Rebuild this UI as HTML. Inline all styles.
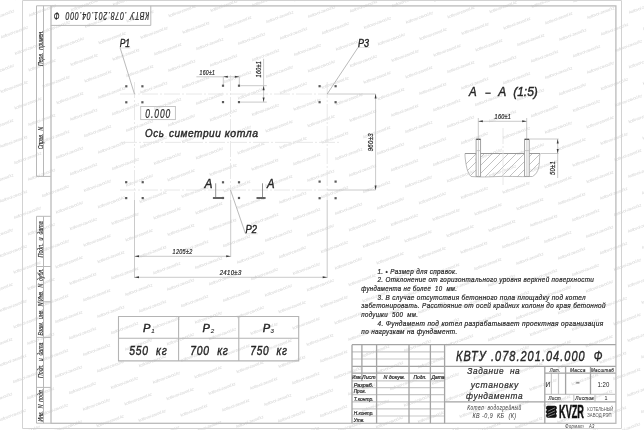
<!DOCTYPE html>
<html><head><meta charset="utf-8">
<style>
html,body{margin:0;padding:0;background:#fff;width:644px;height:430px;overflow:hidden}
svg{display:block;position:absolute;left:0;top:0;will-change:transform;fill:#2a2a2a}
text{font-family:"Liberation Sans",sans-serif;font-style:italic;white-space:pre}
.n text,text.n{font-style:normal}
.bt text,text.bt{stroke:#2a2a2a;stroke-width:0.22}
.bt2 text,text.bt2{stroke:#222;stroke-width:0.4}
.ol{stroke:#d2d2d2;stroke-width:1;fill:none}
.fr{stroke:#bababa;stroke-width:1.3;fill:none}
.ls{stroke:#b8b8b8;stroke-width:1;fill:none}
.tn{stroke:#c8c8c8;stroke-width:1.2;fill:none}
.tk{stroke:#a4a4a4;stroke-width:1.3;fill:none}
.cl{stroke:#e2e2e2;stroke-width:0.8;fill:none;stroke-dasharray:16 2 2 2}
.dim{stroke:#bcbcbc;stroke-width:0.8;fill:none}
.ld{stroke:#a8a8a8;stroke-width:0.8;fill:none}
.dot{fill:#5a5a5a}
.ar{fill:#3a3a3a}
</style></head><body>
<svg width="644" height="430" viewBox="0 0 644 430">
<g id="wm" font-size="4.2" style="font-style:normal;fill:#d4d4d4">
<text x="-28.6" y="443.2" transform="rotate(-20.5 -28.6 443.2)" textLength="29">kotlovoi-zavod.kz</text>
<text x="-28.3" y="388.4" transform="rotate(-20.5 -28.3 388.4)" textLength="29">kotlovoi-zavod.kz</text>
<text x="-14.4" y="404.9" transform="rotate(-20.5 -14.4 404.9)" textLength="29">kotlovoi-zavod.kz</text>
<text x="-0.6" y="421.4" transform="rotate(-20.5 -0.6 421.4)" textLength="29">kotlovoi-zavod.kz</text>
<text x="13.3" y="437.9" transform="rotate(-20.5 13.3 437.9)" textLength="29">kotlovoi-zavod.kz</text>
<text x="-28.0" y="333.7" transform="rotate(-20.5 -28.0 333.7)" textLength="29">kotlovoi-zavod.kz</text>
<text x="-14.2" y="350.2" transform="rotate(-20.5 -14.2 350.2)" textLength="29">kotlovoi-zavod.kz</text>
<text x="-0.3" y="366.7" transform="rotate(-20.5 -0.3 366.7)" textLength="29">kotlovoi-zavod.kz</text>
<text x="13.6" y="383.2" transform="rotate(-20.5 13.6 383.2)" textLength="29">kotlovoi-zavod.kz</text>
<text x="27.5" y="399.6" transform="rotate(-20.5 27.5 399.6)" textLength="29">kotlovoi-zavod.kz</text>
<text x="41.3" y="416.1" transform="rotate(-20.5 41.3 416.1)" textLength="29">kotlovoi-zavod.kz</text>
<text x="55.2" y="432.6" transform="rotate(-20.5 55.2 432.6)" textLength="29">kotlovoi-zavod.kz</text>
<text x="-27.8" y="279.0" transform="rotate(-20.5 -27.8 279.0)" textLength="29">kotlovoi-zavod.kz</text>
<text x="-13.9" y="295.5" transform="rotate(-20.5 -13.9 295.5)" textLength="29">kotlovoi-zavod.kz</text>
<text x="-0.0" y="312.0" transform="rotate(-20.5 -0.0 312.0)" textLength="29">kotlovoi-zavod.kz</text>
<text x="13.9" y="328.4" transform="rotate(-20.5 13.9 328.4)" textLength="29">kotlovoi-zavod.kz</text>
<text x="27.7" y="344.9" transform="rotate(-20.5 27.7 344.9)" textLength="29">kotlovoi-zavod.kz</text>
<text x="41.6" y="361.4" transform="rotate(-20.5 41.6 361.4)" textLength="29">kotlovoi-zavod.kz</text>
<text x="55.5" y="377.9" transform="rotate(-20.5 55.5 377.9)" textLength="29">kotlovoi-zavod.kz</text>
<text x="69.4" y="394.3" transform="rotate(-20.5 69.4 394.3)" textLength="29">kotlovoi-zavod.kz</text>
<text x="83.2" y="410.8" transform="rotate(-20.5 83.2 410.8)" textLength="29">kotlovoi-zavod.kz</text>
<text x="97.1" y="427.3" transform="rotate(-20.5 97.1 427.3)" textLength="29">kotlovoi-zavod.kz</text>
<text x="111.0" y="443.8" transform="rotate(-20.5 111.0 443.8)" textLength="29">kotlovoi-zavod.kz</text>
<text x="-27.5" y="224.3" transform="rotate(-20.5 -27.5 224.3)" textLength="29">kotlovoi-zavod.kz</text>
<text x="-13.6" y="240.8" transform="rotate(-20.5 -13.6 240.8)" textLength="29">kotlovoi-zavod.kz</text>
<text x="0.3" y="257.3" transform="rotate(-20.5 0.3 257.3)" textLength="29">kotlovoi-zavod.kz</text>
<text x="14.1" y="273.7" transform="rotate(-20.5 14.1 273.7)" textLength="29">kotlovoi-zavod.kz</text>
<text x="28.0" y="290.2" transform="rotate(-20.5 28.0 290.2)" textLength="29">kotlovoi-zavod.kz</text>
<text x="41.9" y="306.7" transform="rotate(-20.5 41.9 306.7)" textLength="29">kotlovoi-zavod.kz</text>
<text x="55.8" y="323.2" transform="rotate(-20.5 55.8 323.2)" textLength="29">kotlovoi-zavod.kz</text>
<text x="69.6" y="339.6" transform="rotate(-20.5 69.6 339.6)" textLength="29">kotlovoi-zavod.kz</text>
<text x="83.5" y="356.1" transform="rotate(-20.5 83.5 356.1)" textLength="29">kotlovoi-zavod.kz</text>
<text x="97.4" y="372.6" transform="rotate(-20.5 97.4 372.6)" textLength="29">kotlovoi-zavod.kz</text>
<text x="111.3" y="389.1" transform="rotate(-20.5 111.3 389.1)" textLength="29">kotlovoi-zavod.kz</text>
<text x="125.1" y="405.5" transform="rotate(-20.5 125.1 405.5)" textLength="29">kotlovoi-zavod.kz</text>
<text x="139.0" y="422.0" transform="rotate(-20.5 139.0 422.0)" textLength="29">kotlovoi-zavod.kz</text>
<text x="152.9" y="438.5" transform="rotate(-20.5 152.9 438.5)" textLength="29">kotlovoi-zavod.kz</text>
<text x="-27.2" y="169.6" transform="rotate(-20.5 -27.2 169.6)" textLength="29">kotlovoi-zavod.kz</text>
<text x="-13.3" y="186.1" transform="rotate(-20.5 -13.3 186.1)" textLength="29">kotlovoi-zavod.kz</text>
<text x="0.5" y="202.6" transform="rotate(-20.5 0.5 202.6)" textLength="29">kotlovoi-zavod.kz</text>
<text x="14.4" y="219.0" transform="rotate(-20.5 14.4 219.0)" textLength="29">kotlovoi-zavod.kz</text>
<text x="28.3" y="235.5" transform="rotate(-20.5 28.3 235.5)" textLength="29">kotlovoi-zavod.kz</text>
<text x="42.2" y="252.0" transform="rotate(-20.5 42.2 252.0)" textLength="29">kotlovoi-zavod.kz</text>
<text x="56.0" y="268.5" transform="rotate(-20.5 56.0 268.5)" textLength="29">kotlovoi-zavod.kz</text>
<text x="69.9" y="284.9" transform="rotate(-20.5 69.9 284.9)" textLength="29">kotlovoi-zavod.kz</text>
<text x="83.8" y="301.4" transform="rotate(-20.5 83.8 301.4)" textLength="29">kotlovoi-zavod.kz</text>
<text x="97.7" y="317.9" transform="rotate(-20.5 97.7 317.9)" textLength="29">kotlovoi-zavod.kz</text>
<text x="111.5" y="334.3" transform="rotate(-20.5 111.5 334.3)" textLength="29">kotlovoi-zavod.kz</text>
<text x="125.4" y="350.8" transform="rotate(-20.5 125.4 350.8)" textLength="29">kotlovoi-zavod.kz</text>
<text x="139.3" y="367.3" transform="rotate(-20.5 139.3 367.3)" textLength="29">kotlovoi-zavod.kz</text>
<text x="153.2" y="383.8" transform="rotate(-20.5 153.2 383.8)" textLength="29">kotlovoi-zavod.kz</text>
<text x="167.0" y="400.2" transform="rotate(-20.5 167.0 400.2)" textLength="29">kotlovoi-zavod.kz</text>
<text x="180.9" y="416.7" transform="rotate(-20.5 180.9 416.7)" textLength="29">kotlovoi-zavod.kz</text>
<text x="194.8" y="433.2" transform="rotate(-20.5 194.8 433.2)" textLength="29">kotlovoi-zavod.kz</text>
<text x="-26.9" y="114.9" transform="rotate(-20.5 -26.9 114.9)" textLength="29">kotlovoi-zavod.kz</text>
<text x="-13.1" y="131.4" transform="rotate(-20.5 -13.1 131.4)" textLength="29">kotlovoi-zavod.kz</text>
<text x="0.8" y="147.8" transform="rotate(-20.5 0.8 147.8)" textLength="29">kotlovoi-zavod.kz</text>
<text x="14.7" y="164.3" transform="rotate(-20.5 14.7 164.3)" textLength="29">kotlovoi-zavod.kz</text>
<text x="28.6" y="180.8" transform="rotate(-20.5 28.6 180.8)" textLength="29">kotlovoi-zavod.kz</text>
<text x="42.4" y="197.3" transform="rotate(-20.5 42.4 197.3)" textLength="29">kotlovoi-zavod.kz</text>
<text x="56.3" y="213.7" transform="rotate(-20.5 56.3 213.7)" textLength="29">kotlovoi-zavod.kz</text>
<text x="70.2" y="230.2" transform="rotate(-20.5 70.2 230.2)" textLength="29">kotlovoi-zavod.kz</text>
<text x="84.1" y="246.7" transform="rotate(-20.5 84.1 246.7)" textLength="29">kotlovoi-zavod.kz</text>
<text x="97.9" y="263.2" transform="rotate(-20.5 97.9 263.2)" textLength="29">kotlovoi-zavod.kz</text>
<text x="111.8" y="279.6" transform="rotate(-20.5 111.8 279.6)" textLength="29">kotlovoi-zavod.kz</text>
<text x="125.7" y="296.1" transform="rotate(-20.5 125.7 296.1)" textLength="29">kotlovoi-zavod.kz</text>
<text x="139.6" y="312.6" transform="rotate(-20.5 139.6 312.6)" textLength="29">kotlovoi-zavod.kz</text>
<text x="153.4" y="329.1" transform="rotate(-20.5 153.4 329.1)" textLength="29">kotlovoi-zavod.kz</text>
<text x="167.3" y="345.5" transform="rotate(-20.5 167.3 345.5)" textLength="29">kotlovoi-zavod.kz</text>
<text x="181.2" y="362.0" transform="rotate(-20.5 181.2 362.0)" textLength="29">kotlovoi-zavod.kz</text>
<text x="195.1" y="378.5" transform="rotate(-20.5 195.1 378.5)" textLength="29">kotlovoi-zavod.kz</text>
<text x="208.9" y="395.0" transform="rotate(-20.5 208.9 395.0)" textLength="29">kotlovoi-zavod.kz</text>
<text x="222.8" y="411.4" transform="rotate(-20.5 222.8 411.4)" textLength="29">kotlovoi-zavod.kz</text>
<text x="236.7" y="427.9" transform="rotate(-20.5 236.7 427.9)" textLength="29">kotlovoi-zavod.kz</text>
<text x="250.6" y="444.4" transform="rotate(-20.5 250.6 444.4)" textLength="29">kotlovoi-zavod.kz</text>
<text x="-26.6" y="60.2" transform="rotate(-20.5 -26.6 60.2)" textLength="29">kotlovoi-zavod.kz</text>
<text x="-12.8" y="76.7" transform="rotate(-20.5 -12.8 76.7)" textLength="29">kotlovoi-zavod.kz</text>
<text x="1.1" y="93.1" transform="rotate(-20.5 1.1 93.1)" textLength="29">kotlovoi-zavod.kz</text>
<text x="15.0" y="109.6" transform="rotate(-20.5 15.0 109.6)" textLength="29">kotlovoi-zavod.kz</text>
<text x="28.8" y="126.1" transform="rotate(-20.5 28.8 126.1)" textLength="29">kotlovoi-zavod.kz</text>
<text x="42.7" y="142.6" transform="rotate(-20.5 42.7 142.6)" textLength="29">kotlovoi-zavod.kz</text>
<text x="56.6" y="159.0" transform="rotate(-20.5 56.6 159.0)" textLength="29">kotlovoi-zavod.kz</text>
<text x="70.5" y="175.5" transform="rotate(-20.5 70.5 175.5)" textLength="29">kotlovoi-zavod.kz</text>
<text x="84.3" y="192.0" transform="rotate(-20.5 84.3 192.0)" textLength="29">kotlovoi-zavod.kz</text>
<text x="98.2" y="208.5" transform="rotate(-20.5 98.2 208.5)" textLength="29">kotlovoi-zavod.kz</text>
<text x="112.1" y="224.9" transform="rotate(-20.5 112.1 224.9)" textLength="29">kotlovoi-zavod.kz</text>
<text x="126.0" y="241.4" transform="rotate(-20.5 126.0 241.4)" textLength="29">kotlovoi-zavod.kz</text>
<text x="139.8" y="257.9" transform="rotate(-20.5 139.8 257.9)" textLength="29">kotlovoi-zavod.kz</text>
<text x="153.7" y="274.4" transform="rotate(-20.5 153.7 274.4)" textLength="29">kotlovoi-zavod.kz</text>
<text x="167.6" y="290.8" transform="rotate(-20.5 167.6 290.8)" textLength="29">kotlovoi-zavod.kz</text>
<text x="181.5" y="307.3" transform="rotate(-20.5 181.5 307.3)" textLength="29">kotlovoi-zavod.kz</text>
<text x="195.3" y="323.8" transform="rotate(-20.5 195.3 323.8)" textLength="29">kotlovoi-zavod.kz</text>
<text x="209.2" y="340.2" transform="rotate(-20.5 209.2 340.2)" textLength="29">kotlovoi-zavod.kz</text>
<text x="223.1" y="356.7" transform="rotate(-20.5 223.1 356.7)" textLength="29">kotlovoi-zavod.kz</text>
<text x="237.0" y="373.2" transform="rotate(-20.5 237.0 373.2)" textLength="29">kotlovoi-zavod.kz</text>
<text x="250.8" y="389.7" transform="rotate(-20.5 250.8 389.7)" textLength="29">kotlovoi-zavod.kz</text>
<text x="264.7" y="406.1" transform="rotate(-20.5 264.7 406.1)" textLength="29">kotlovoi-zavod.kz</text>
<text x="278.6" y="422.6" transform="rotate(-20.5 278.6 422.6)" textLength="29">kotlovoi-zavod.kz</text>
<text x="292.5" y="439.1" transform="rotate(-20.5 292.5 439.1)" textLength="29">kotlovoi-zavod.kz</text>
<text x="-26.4" y="5.5" transform="rotate(-20.5 -26.4 5.5)" textLength="29">kotlovoi-zavod.kz</text>
<text x="-12.5" y="22.0" transform="rotate(-20.5 -12.5 22.0)" textLength="29">kotlovoi-zavod.kz</text>
<text x="1.4" y="38.4" transform="rotate(-20.5 1.4 38.4)" textLength="29">kotlovoi-zavod.kz</text>
<text x="15.3" y="54.9" transform="rotate(-20.5 15.3 54.9)" textLength="29">kotlovoi-zavod.kz</text>
<text x="29.1" y="71.4" transform="rotate(-20.5 29.1 71.4)" textLength="29">kotlovoi-zavod.kz</text>
<text x="43.0" y="87.9" transform="rotate(-20.5 43.0 87.9)" textLength="29">kotlovoi-zavod.kz</text>
<text x="56.9" y="104.3" transform="rotate(-20.5 56.9 104.3)" textLength="29">kotlovoi-zavod.kz</text>
<text x="70.7" y="120.8" transform="rotate(-20.5 70.7 120.8)" textLength="29">kotlovoi-zavod.kz</text>
<text x="84.6" y="137.3" transform="rotate(-20.5 84.6 137.3)" textLength="29">kotlovoi-zavod.kz</text>
<text x="98.5" y="153.7" transform="rotate(-20.5 98.5 153.7)" textLength="29">kotlovoi-zavod.kz</text>
<text x="112.4" y="170.2" transform="rotate(-20.5 112.4 170.2)" textLength="29">kotlovoi-zavod.kz</text>
<text x="126.2" y="186.7" transform="rotate(-20.5 126.2 186.7)" textLength="29">kotlovoi-zavod.kz</text>
<text x="140.1" y="203.2" transform="rotate(-20.5 140.1 203.2)" textLength="29">kotlovoi-zavod.kz</text>
<text x="154.0" y="219.6" transform="rotate(-20.5 154.0 219.6)" textLength="29">kotlovoi-zavod.kz</text>
<text x="167.9" y="236.1" transform="rotate(-20.5 167.9 236.1)" textLength="29">kotlovoi-zavod.kz</text>
<text x="181.7" y="252.6" transform="rotate(-20.5 181.7 252.6)" textLength="29">kotlovoi-zavod.kz</text>
<text x="195.6" y="269.1" transform="rotate(-20.5 195.6 269.1)" textLength="29">kotlovoi-zavod.kz</text>
<text x="209.5" y="285.5" transform="rotate(-20.5 209.5 285.5)" textLength="29">kotlovoi-zavod.kz</text>
<text x="223.4" y="302.0" transform="rotate(-20.5 223.4 302.0)" textLength="29">kotlovoi-zavod.kz</text>
<text x="237.2" y="318.5" transform="rotate(-20.5 237.2 318.5)" textLength="29">kotlovoi-zavod.kz</text>
<text x="251.1" y="335.0" transform="rotate(-20.5 251.1 335.0)" textLength="29">kotlovoi-zavod.kz</text>
<text x="265.0" y="351.4" transform="rotate(-20.5 265.0 351.4)" textLength="29">kotlovoi-zavod.kz</text>
<text x="278.9" y="367.9" transform="rotate(-20.5 278.9 367.9)" textLength="29">kotlovoi-zavod.kz</text>
<text x="292.7" y="384.4" transform="rotate(-20.5 292.7 384.4)" textLength="29">kotlovoi-zavod.kz</text>
<text x="306.6" y="400.9" transform="rotate(-20.5 306.6 400.9)" textLength="29">kotlovoi-zavod.kz</text>
<text x="320.5" y="417.3" transform="rotate(-20.5 320.5 417.3)" textLength="29">kotlovoi-zavod.kz</text>
<text x="334.4" y="433.8" transform="rotate(-20.5 334.4 433.8)" textLength="29">kotlovoi-zavod.kz</text>
<text x="15.5" y="0.2" transform="rotate(-20.5 15.5 0.2)" textLength="29">kotlovoi-zavod.kz</text>
<text x="29.4" y="16.7" transform="rotate(-20.5 29.4 16.7)" textLength="29">kotlovoi-zavod.kz</text>
<text x="43.3" y="33.1" transform="rotate(-20.5 43.3 33.1)" textLength="29">kotlovoi-zavod.kz</text>
<text x="57.2" y="49.6" transform="rotate(-20.5 57.2 49.6)" textLength="29">kotlovoi-zavod.kz</text>
<text x="71.0" y="66.1" transform="rotate(-20.5 71.0 66.1)" textLength="29">kotlovoi-zavod.kz</text>
<text x="84.9" y="82.6" transform="rotate(-20.5 84.9 82.6)" textLength="29">kotlovoi-zavod.kz</text>
<text x="98.8" y="99.0" transform="rotate(-20.5 98.8 99.0)" textLength="29">kotlovoi-zavod.kz</text>
<text x="112.6" y="115.5" transform="rotate(-20.5 112.6 115.5)" textLength="29">kotlovoi-zavod.kz</text>
<text x="126.5" y="132.0" transform="rotate(-20.5 126.5 132.0)" textLength="29">kotlovoi-zavod.kz</text>
<text x="140.4" y="148.5" transform="rotate(-20.5 140.4 148.5)" textLength="29">kotlovoi-zavod.kz</text>
<text x="154.3" y="164.9" transform="rotate(-20.5 154.3 164.9)" textLength="29">kotlovoi-zavod.kz</text>
<text x="168.1" y="181.4" transform="rotate(-20.5 168.1 181.4)" textLength="29">kotlovoi-zavod.kz</text>
<text x="182.0" y="197.9" transform="rotate(-20.5 182.0 197.9)" textLength="29">kotlovoi-zavod.kz</text>
<text x="195.9" y="214.4" transform="rotate(-20.5 195.9 214.4)" textLength="29">kotlovoi-zavod.kz</text>
<text x="209.8" y="230.8" transform="rotate(-20.5 209.8 230.8)" textLength="29">kotlovoi-zavod.kz</text>
<text x="223.6" y="247.3" transform="rotate(-20.5 223.6 247.3)" textLength="29">kotlovoi-zavod.kz</text>
<text x="237.5" y="263.8" transform="rotate(-20.5 237.5 263.8)" textLength="29">kotlovoi-zavod.kz</text>
<text x="251.4" y="280.3" transform="rotate(-20.5 251.4 280.3)" textLength="29">kotlovoi-zavod.kz</text>
<text x="265.3" y="296.7" transform="rotate(-20.5 265.3 296.7)" textLength="29">kotlovoi-zavod.kz</text>
<text x="279.1" y="313.2" transform="rotate(-20.5 279.1 313.2)" textLength="29">kotlovoi-zavod.kz</text>
<text x="293.0" y="329.7" transform="rotate(-20.5 293.0 329.7)" textLength="29">kotlovoi-zavod.kz</text>
<text x="306.9" y="346.1" transform="rotate(-20.5 306.9 346.1)" textLength="29">kotlovoi-zavod.kz</text>
<text x="320.8" y="362.6" transform="rotate(-20.5 320.8 362.6)" textLength="29">kotlovoi-zavod.kz</text>
<text x="334.6" y="379.1" transform="rotate(-20.5 334.6 379.1)" textLength="29">kotlovoi-zavod.kz</text>
<text x="348.5" y="395.6" transform="rotate(-20.5 348.5 395.6)" textLength="29">kotlovoi-zavod.kz</text>
<text x="362.4" y="412.0" transform="rotate(-20.5 362.4 412.0)" textLength="29">kotlovoi-zavod.kz</text>
<text x="376.3" y="428.5" transform="rotate(-20.5 376.3 428.5)" textLength="29">kotlovoi-zavod.kz</text>
<text x="390.1" y="445.0" transform="rotate(-20.5 390.1 445.0)" textLength="29">kotlovoi-zavod.kz</text>
<text x="71.3" y="11.4" transform="rotate(-20.5 71.3 11.4)" textLength="29">kotlovoi-zavod.kz</text>
<text x="85.2" y="27.9" transform="rotate(-20.5 85.2 27.9)" textLength="29">kotlovoi-zavod.kz</text>
<text x="99.1" y="44.3" transform="rotate(-20.5 99.1 44.3)" textLength="29">kotlovoi-zavod.kz</text>
<text x="112.9" y="60.8" transform="rotate(-20.5 112.9 60.8)" textLength="29">kotlovoi-zavod.kz</text>
<text x="126.8" y="77.3" transform="rotate(-20.5 126.8 77.3)" textLength="29">kotlovoi-zavod.kz</text>
<text x="140.7" y="93.8" transform="rotate(-20.5 140.7 93.8)" textLength="29">kotlovoi-zavod.kz</text>
<text x="154.5" y="110.2" transform="rotate(-20.5 154.5 110.2)" textLength="29">kotlovoi-zavod.kz</text>
<text x="168.4" y="126.7" transform="rotate(-20.5 168.4 126.7)" textLength="29">kotlovoi-zavod.kz</text>
<text x="182.3" y="143.2" transform="rotate(-20.5 182.3 143.2)" textLength="29">kotlovoi-zavod.kz</text>
<text x="196.2" y="159.6" transform="rotate(-20.5 196.2 159.6)" textLength="29">kotlovoi-zavod.kz</text>
<text x="210.0" y="176.1" transform="rotate(-20.5 210.0 176.1)" textLength="29">kotlovoi-zavod.kz</text>
<text x="223.9" y="192.6" transform="rotate(-20.5 223.9 192.6)" textLength="29">kotlovoi-zavod.kz</text>
<text x="237.8" y="209.1" transform="rotate(-20.5 237.8 209.1)" textLength="29">kotlovoi-zavod.kz</text>
<text x="251.7" y="225.5" transform="rotate(-20.5 251.7 225.5)" textLength="29">kotlovoi-zavod.kz</text>
<text x="265.5" y="242.0" transform="rotate(-20.5 265.5 242.0)" textLength="29">kotlovoi-zavod.kz</text>
<text x="279.4" y="258.5" transform="rotate(-20.5 279.4 258.5)" textLength="29">kotlovoi-zavod.kz</text>
<text x="293.3" y="275.0" transform="rotate(-20.5 293.3 275.0)" textLength="29">kotlovoi-zavod.kz</text>
<text x="307.2" y="291.4" transform="rotate(-20.5 307.2 291.4)" textLength="29">kotlovoi-zavod.kz</text>
<text x="321.0" y="307.9" transform="rotate(-20.5 321.0 307.9)" textLength="29">kotlovoi-zavod.kz</text>
<text x="334.9" y="324.4" transform="rotate(-20.5 334.9 324.4)" textLength="29">kotlovoi-zavod.kz</text>
<text x="348.8" y="340.9" transform="rotate(-20.5 348.8 340.9)" textLength="29">kotlovoi-zavod.kz</text>
<text x="362.7" y="357.3" transform="rotate(-20.5 362.7 357.3)" textLength="29">kotlovoi-zavod.kz</text>
<text x="376.5" y="373.8" transform="rotate(-20.5 376.5 373.8)" textLength="29">kotlovoi-zavod.kz</text>
<text x="390.4" y="390.3" transform="rotate(-20.5 390.4 390.3)" textLength="29">kotlovoi-zavod.kz</text>
<text x="404.3" y="406.8" transform="rotate(-20.5 404.3 406.8)" textLength="29">kotlovoi-zavod.kz</text>
<text x="418.2" y="423.2" transform="rotate(-20.5 418.2 423.2)" textLength="29">kotlovoi-zavod.kz</text>
<text x="432.0" y="439.7" transform="rotate(-20.5 432.0 439.7)" textLength="29">kotlovoi-zavod.kz</text>
<text x="113.2" y="6.1" transform="rotate(-20.5 113.2 6.1)" textLength="29">kotlovoi-zavod.kz</text>
<text x="127.1" y="22.6" transform="rotate(-20.5 127.1 22.6)" textLength="29">kotlovoi-zavod.kz</text>
<text x="141.0" y="39.0" transform="rotate(-20.5 141.0 39.0)" textLength="29">kotlovoi-zavod.kz</text>
<text x="154.8" y="55.5" transform="rotate(-20.5 154.8 55.5)" textLength="29">kotlovoi-zavod.kz</text>
<text x="168.7" y="72.0" transform="rotate(-20.5 168.7 72.0)" textLength="29">kotlovoi-zavod.kz</text>
<text x="182.6" y="88.5" transform="rotate(-20.5 182.6 88.5)" textLength="29">kotlovoi-zavod.kz</text>
<text x="196.4" y="104.9" transform="rotate(-20.5 196.4 104.9)" textLength="29">kotlovoi-zavod.kz</text>
<text x="210.3" y="121.4" transform="rotate(-20.5 210.3 121.4)" textLength="29">kotlovoi-zavod.kz</text>
<text x="224.2" y="137.9" transform="rotate(-20.5 224.2 137.9)" textLength="29">kotlovoi-zavod.kz</text>
<text x="238.1" y="154.4" transform="rotate(-20.5 238.1 154.4)" textLength="29">kotlovoi-zavod.kz</text>
<text x="251.9" y="170.8" transform="rotate(-20.5 251.9 170.8)" textLength="29">kotlovoi-zavod.kz</text>
<text x="265.8" y="187.3" transform="rotate(-20.5 265.8 187.3)" textLength="29">kotlovoi-zavod.kz</text>
<text x="279.7" y="203.8" transform="rotate(-20.5 279.7 203.8)" textLength="29">kotlovoi-zavod.kz</text>
<text x="293.6" y="220.3" transform="rotate(-20.5 293.6 220.3)" textLength="29">kotlovoi-zavod.kz</text>
<text x="307.4" y="236.7" transform="rotate(-20.5 307.4 236.7)" textLength="29">kotlovoi-zavod.kz</text>
<text x="321.3" y="253.2" transform="rotate(-20.5 321.3 253.2)" textLength="29">kotlovoi-zavod.kz</text>
<text x="335.2" y="269.7" transform="rotate(-20.5 335.2 269.7)" textLength="29">kotlovoi-zavod.kz</text>
<text x="349.1" y="286.2" transform="rotate(-20.5 349.1 286.2)" textLength="29">kotlovoi-zavod.kz</text>
<text x="362.9" y="302.6" transform="rotate(-20.5 362.9 302.6)" textLength="29">kotlovoi-zavod.kz</text>
<text x="376.8" y="319.1" transform="rotate(-20.5 376.8 319.1)" textLength="29">kotlovoi-zavod.kz</text>
<text x="390.7" y="335.6" transform="rotate(-20.5 390.7 335.6)" textLength="29">kotlovoi-zavod.kz</text>
<text x="404.6" y="352.0" transform="rotate(-20.5 404.6 352.0)" textLength="29">kotlovoi-zavod.kz</text>
<text x="418.4" y="368.5" transform="rotate(-20.5 418.4 368.5)" textLength="29">kotlovoi-zavod.kz</text>
<text x="432.3" y="385.0" transform="rotate(-20.5 432.3 385.0)" textLength="29">kotlovoi-zavod.kz</text>
<text x="446.2" y="401.5" transform="rotate(-20.5 446.2 401.5)" textLength="29">kotlovoi-zavod.kz</text>
<text x="460.1" y="417.9" transform="rotate(-20.5 460.1 417.9)" textLength="29">kotlovoi-zavod.kz</text>
<text x="473.9" y="434.4" transform="rotate(-20.5 473.9 434.4)" textLength="29">kotlovoi-zavod.kz</text>
<text x="155.1" y="0.8" transform="rotate(-20.5 155.1 0.8)" textLength="29">kotlovoi-zavod.kz</text>
<text x="169.0" y="17.3" transform="rotate(-20.5 169.0 17.3)" textLength="29">kotlovoi-zavod.kz</text>
<text x="182.9" y="33.8" transform="rotate(-20.5 182.9 33.8)" textLength="29">kotlovoi-zavod.kz</text>
<text x="196.7" y="50.2" transform="rotate(-20.5 196.7 50.2)" textLength="29">kotlovoi-zavod.kz</text>
<text x="210.6" y="66.7" transform="rotate(-20.5 210.6 66.7)" textLength="29">kotlovoi-zavod.kz</text>
<text x="224.5" y="83.2" transform="rotate(-20.5 224.5 83.2)" textLength="29">kotlovoi-zavod.kz</text>
<text x="238.3" y="99.7" transform="rotate(-20.5 238.3 99.7)" textLength="29">kotlovoi-zavod.kz</text>
<text x="252.2" y="116.1" transform="rotate(-20.5 252.2 116.1)" textLength="29">kotlovoi-zavod.kz</text>
<text x="266.1" y="132.6" transform="rotate(-20.5 266.1 132.6)" textLength="29">kotlovoi-zavod.kz</text>
<text x="280.0" y="149.1" transform="rotate(-20.5 280.0 149.1)" textLength="29">kotlovoi-zavod.kz</text>
<text x="293.8" y="165.5" transform="rotate(-20.5 293.8 165.5)" textLength="29">kotlovoi-zavod.kz</text>
<text x="307.7" y="182.0" transform="rotate(-20.5 307.7 182.0)" textLength="29">kotlovoi-zavod.kz</text>
<text x="321.6" y="198.5" transform="rotate(-20.5 321.6 198.5)" textLength="29">kotlovoi-zavod.kz</text>
<text x="335.5" y="215.0" transform="rotate(-20.5 335.5 215.0)" textLength="29">kotlovoi-zavod.kz</text>
<text x="349.3" y="231.4" transform="rotate(-20.5 349.3 231.4)" textLength="29">kotlovoi-zavod.kz</text>
<text x="363.2" y="247.9" transform="rotate(-20.5 363.2 247.9)" textLength="29">kotlovoi-zavod.kz</text>
<text x="377.1" y="264.4" transform="rotate(-20.5 377.1 264.4)" textLength="29">kotlovoi-zavod.kz</text>
<text x="391.0" y="280.9" transform="rotate(-20.5 391.0 280.9)" textLength="29">kotlovoi-zavod.kz</text>
<text x="404.8" y="297.3" transform="rotate(-20.5 404.8 297.3)" textLength="29">kotlovoi-zavod.kz</text>
<text x="418.7" y="313.8" transform="rotate(-20.5 418.7 313.8)" textLength="29">kotlovoi-zavod.kz</text>
<text x="432.6" y="330.3" transform="rotate(-20.5 432.6 330.3)" textLength="29">kotlovoi-zavod.kz</text>
<text x="446.5" y="346.8" transform="rotate(-20.5 446.5 346.8)" textLength="29">kotlovoi-zavod.kz</text>
<text x="460.3" y="363.2" transform="rotate(-20.5 460.3 363.2)" textLength="29">kotlovoi-zavod.kz</text>
<text x="474.2" y="379.7" transform="rotate(-20.5 474.2 379.7)" textLength="29">kotlovoi-zavod.kz</text>
<text x="488.1" y="396.2" transform="rotate(-20.5 488.1 396.2)" textLength="29">kotlovoi-zavod.kz</text>
<text x="502.0" y="412.7" transform="rotate(-20.5 502.0 412.7)" textLength="29">kotlovoi-zavod.kz</text>
<text x="515.8" y="429.1" transform="rotate(-20.5 515.8 429.1)" textLength="29">kotlovoi-zavod.kz</text>
<text x="197.0" y="-4.5" transform="rotate(-20.5 197.0 -4.5)" textLength="29">kotlovoi-zavod.kz</text>
<text x="210.9" y="12.0" transform="rotate(-20.5 210.9 12.0)" textLength="29">kotlovoi-zavod.kz</text>
<text x="224.8" y="28.5" transform="rotate(-20.5 224.8 28.5)" textLength="29">kotlovoi-zavod.kz</text>
<text x="238.6" y="44.9" transform="rotate(-20.5 238.6 44.9)" textLength="29">kotlovoi-zavod.kz</text>
<text x="252.5" y="61.4" transform="rotate(-20.5 252.5 61.4)" textLength="29">kotlovoi-zavod.kz</text>
<text x="266.4" y="77.9" transform="rotate(-20.5 266.4 77.9)" textLength="29">kotlovoi-zavod.kz</text>
<text x="280.2" y="94.4" transform="rotate(-20.5 280.2 94.4)" textLength="29">kotlovoi-zavod.kz</text>
<text x="294.1" y="110.8" transform="rotate(-20.5 294.1 110.8)" textLength="29">kotlovoi-zavod.kz</text>
<text x="308.0" y="127.3" transform="rotate(-20.5 308.0 127.3)" textLength="29">kotlovoi-zavod.kz</text>
<text x="321.9" y="143.8" transform="rotate(-20.5 321.9 143.8)" textLength="29">kotlovoi-zavod.kz</text>
<text x="335.7" y="160.3" transform="rotate(-20.5 335.7 160.3)" textLength="29">kotlovoi-zavod.kz</text>
<text x="349.6" y="176.7" transform="rotate(-20.5 349.6 176.7)" textLength="29">kotlovoi-zavod.kz</text>
<text x="363.5" y="193.2" transform="rotate(-20.5 363.5 193.2)" textLength="29">kotlovoi-zavod.kz</text>
<text x="377.4" y="209.7" transform="rotate(-20.5 377.4 209.7)" textLength="29">kotlovoi-zavod.kz</text>
<text x="391.2" y="226.2" transform="rotate(-20.5 391.2 226.2)" textLength="29">kotlovoi-zavod.kz</text>
<text x="405.1" y="242.6" transform="rotate(-20.5 405.1 242.6)" textLength="29">kotlovoi-zavod.kz</text>
<text x="419.0" y="259.1" transform="rotate(-20.5 419.0 259.1)" textLength="29">kotlovoi-zavod.kz</text>
<text x="432.9" y="275.6" transform="rotate(-20.5 432.9 275.6)" textLength="29">kotlovoi-zavod.kz</text>
<text x="446.7" y="292.1" transform="rotate(-20.5 446.7 292.1)" textLength="29">kotlovoi-zavod.kz</text>
<text x="460.6" y="308.5" transform="rotate(-20.5 460.6 308.5)" textLength="29">kotlovoi-zavod.kz</text>
<text x="474.5" y="325.0" transform="rotate(-20.5 474.5 325.0)" textLength="29">kotlovoi-zavod.kz</text>
<text x="488.4" y="341.5" transform="rotate(-20.5 488.4 341.5)" textLength="29">kotlovoi-zavod.kz</text>
<text x="502.2" y="357.9" transform="rotate(-20.5 502.2 357.9)" textLength="29">kotlovoi-zavod.kz</text>
<text x="516.1" y="374.4" transform="rotate(-20.5 516.1 374.4)" textLength="29">kotlovoi-zavod.kz</text>
<text x="530.0" y="390.9" transform="rotate(-20.5 530.0 390.9)" textLength="29">kotlovoi-zavod.kz</text>
<text x="543.9" y="407.4" transform="rotate(-20.5 543.9 407.4)" textLength="29">kotlovoi-zavod.kz</text>
<text x="557.7" y="423.8" transform="rotate(-20.5 557.7 423.8)" textLength="29">kotlovoi-zavod.kz</text>
<text x="571.6" y="440.3" transform="rotate(-20.5 571.6 440.3)" textLength="29">kotlovoi-zavod.kz</text>
<text x="252.8" y="6.7" transform="rotate(-20.5 252.8 6.7)" textLength="29">kotlovoi-zavod.kz</text>
<text x="266.7" y="23.2" transform="rotate(-20.5 266.7 23.2)" textLength="29">kotlovoi-zavod.kz</text>
<text x="280.5" y="39.7" transform="rotate(-20.5 280.5 39.7)" textLength="29">kotlovoi-zavod.kz</text>
<text x="294.4" y="56.1" transform="rotate(-20.5 294.4 56.1)" textLength="29">kotlovoi-zavod.kz</text>
<text x="308.3" y="72.6" transform="rotate(-20.5 308.3 72.6)" textLength="29">kotlovoi-zavod.kz</text>
<text x="322.1" y="89.1" transform="rotate(-20.5 322.1 89.1)" textLength="29">kotlovoi-zavod.kz</text>
<text x="336.0" y="105.6" transform="rotate(-20.5 336.0 105.6)" textLength="29">kotlovoi-zavod.kz</text>
<text x="349.9" y="122.0" transform="rotate(-20.5 349.9 122.0)" textLength="29">kotlovoi-zavod.kz</text>
<text x="363.8" y="138.5" transform="rotate(-20.5 363.8 138.5)" textLength="29">kotlovoi-zavod.kz</text>
<text x="377.6" y="155.0" transform="rotate(-20.5 377.6 155.0)" textLength="29">kotlovoi-zavod.kz</text>
<text x="391.5" y="171.4" transform="rotate(-20.5 391.5 171.4)" textLength="29">kotlovoi-zavod.kz</text>
<text x="405.4" y="187.9" transform="rotate(-20.5 405.4 187.9)" textLength="29">kotlovoi-zavod.kz</text>
<text x="419.3" y="204.4" transform="rotate(-20.5 419.3 204.4)" textLength="29">kotlovoi-zavod.kz</text>
<text x="433.1" y="220.9" transform="rotate(-20.5 433.1 220.9)" textLength="29">kotlovoi-zavod.kz</text>
<text x="447.0" y="237.3" transform="rotate(-20.5 447.0 237.3)" textLength="29">kotlovoi-zavod.kz</text>
<text x="460.9" y="253.8" transform="rotate(-20.5 460.9 253.8)" textLength="29">kotlovoi-zavod.kz</text>
<text x="474.8" y="270.3" transform="rotate(-20.5 474.8 270.3)" textLength="29">kotlovoi-zavod.kz</text>
<text x="488.6" y="286.8" transform="rotate(-20.5 488.6 286.8)" textLength="29">kotlovoi-zavod.kz</text>
<text x="502.5" y="303.2" transform="rotate(-20.5 502.5 303.2)" textLength="29">kotlovoi-zavod.kz</text>
<text x="516.4" y="319.7" transform="rotate(-20.5 516.4 319.7)" textLength="29">kotlovoi-zavod.kz</text>
<text x="530.3" y="336.2" transform="rotate(-20.5 530.3 336.2)" textLength="29">kotlovoi-zavod.kz</text>
<text x="544.1" y="352.7" transform="rotate(-20.5 544.1 352.7)" textLength="29">kotlovoi-zavod.kz</text>
<text x="558.0" y="369.1" transform="rotate(-20.5 558.0 369.1)" textLength="29">kotlovoi-zavod.kz</text>
<text x="571.9" y="385.6" transform="rotate(-20.5 571.9 385.6)" textLength="29">kotlovoi-zavod.kz</text>
<text x="585.8" y="402.1" transform="rotate(-20.5 585.8 402.1)" textLength="29">kotlovoi-zavod.kz</text>
<text x="599.6" y="418.6" transform="rotate(-20.5 599.6 418.6)" textLength="29">kotlovoi-zavod.kz</text>
<text x="613.5" y="435.0" transform="rotate(-20.5 613.5 435.0)" textLength="29">kotlovoi-zavod.kz</text>
<text x="294.7" y="1.4" transform="rotate(-20.5 294.7 1.4)" textLength="29">kotlovoi-zavod.kz</text>
<text x="308.6" y="17.9" transform="rotate(-20.5 308.6 17.9)" textLength="29">kotlovoi-zavod.kz</text>
<text x="322.4" y="34.4" transform="rotate(-20.5 322.4 34.4)" textLength="29">kotlovoi-zavod.kz</text>
<text x="336.3" y="50.8" transform="rotate(-20.5 336.3 50.8)" textLength="29">kotlovoi-zavod.kz</text>
<text x="350.2" y="67.3" transform="rotate(-20.5 350.2 67.3)" textLength="29">kotlovoi-zavod.kz</text>
<text x="364.0" y="83.8" transform="rotate(-20.5 364.0 83.8)" textLength="29">kotlovoi-zavod.kz</text>
<text x="377.9" y="100.3" transform="rotate(-20.5 377.9 100.3)" textLength="29">kotlovoi-zavod.kz</text>
<text x="391.8" y="116.7" transform="rotate(-20.5 391.8 116.7)" textLength="29">kotlovoi-zavod.kz</text>
<text x="405.7" y="133.2" transform="rotate(-20.5 405.7 133.2)" textLength="29">kotlovoi-zavod.kz</text>
<text x="419.5" y="149.7" transform="rotate(-20.5 419.5 149.7)" textLength="29">kotlovoi-zavod.kz</text>
<text x="433.4" y="166.2" transform="rotate(-20.5 433.4 166.2)" textLength="29">kotlovoi-zavod.kz</text>
<text x="447.3" y="182.6" transform="rotate(-20.5 447.3 182.6)" textLength="29">kotlovoi-zavod.kz</text>
<text x="461.2" y="199.1" transform="rotate(-20.5 461.2 199.1)" textLength="29">kotlovoi-zavod.kz</text>
<text x="475.0" y="215.6" transform="rotate(-20.5 475.0 215.6)" textLength="29">kotlovoi-zavod.kz</text>
<text x="488.9" y="232.1" transform="rotate(-20.5 488.9 232.1)" textLength="29">kotlovoi-zavod.kz</text>
<text x="502.8" y="248.5" transform="rotate(-20.5 502.8 248.5)" textLength="29">kotlovoi-zavod.kz</text>
<text x="516.7" y="265.0" transform="rotate(-20.5 516.7 265.0)" textLength="29">kotlovoi-zavod.kz</text>
<text x="530.5" y="281.5" transform="rotate(-20.5 530.5 281.5)" textLength="29">kotlovoi-zavod.kz</text>
<text x="544.4" y="298.0" transform="rotate(-20.5 544.4 298.0)" textLength="29">kotlovoi-zavod.kz</text>
<text x="558.3" y="314.4" transform="rotate(-20.5 558.3 314.4)" textLength="29">kotlovoi-zavod.kz</text>
<text x="572.2" y="330.9" transform="rotate(-20.5 572.2 330.9)" textLength="29">kotlovoi-zavod.kz</text>
<text x="586.0" y="347.4" transform="rotate(-20.5 586.0 347.4)" textLength="29">kotlovoi-zavod.kz</text>
<text x="599.9" y="363.8" transform="rotate(-20.5 599.9 363.8)" textLength="29">kotlovoi-zavod.kz</text>
<text x="613.8" y="380.3" transform="rotate(-20.5 613.8 380.3)" textLength="29">kotlovoi-zavod.kz</text>
<text x="627.7" y="396.8" transform="rotate(-20.5 627.7 396.8)" textLength="29">kotlovoi-zavod.kz</text>
<text x="641.5" y="413.3" transform="rotate(-20.5 641.5 413.3)" textLength="29">kotlovoi-zavod.kz</text>
<text x="336.6" y="-3.9" transform="rotate(-20.5 336.6 -3.9)" textLength="29">kotlovoi-zavod.kz</text>
<text x="350.5" y="12.6" transform="rotate(-20.5 350.5 12.6)" textLength="29">kotlovoi-zavod.kz</text>
<text x="364.3" y="29.1" transform="rotate(-20.5 364.3 29.1)" textLength="29">kotlovoi-zavod.kz</text>
<text x="378.2" y="45.6" transform="rotate(-20.5 378.2 45.6)" textLength="29">kotlovoi-zavod.kz</text>
<text x="392.1" y="62.0" transform="rotate(-20.5 392.1 62.0)" textLength="29">kotlovoi-zavod.kz</text>
<text x="405.9" y="78.5" transform="rotate(-20.5 405.9 78.5)" textLength="29">kotlovoi-zavod.kz</text>
<text x="419.8" y="95.0" transform="rotate(-20.5 419.8 95.0)" textLength="29">kotlovoi-zavod.kz</text>
<text x="433.7" y="111.5" transform="rotate(-20.5 433.7 111.5)" textLength="29">kotlovoi-zavod.kz</text>
<text x="447.6" y="127.9" transform="rotate(-20.5 447.6 127.9)" textLength="29">kotlovoi-zavod.kz</text>
<text x="461.4" y="144.4" transform="rotate(-20.5 461.4 144.4)" textLength="29">kotlovoi-zavod.kz</text>
<text x="475.3" y="160.9" transform="rotate(-20.5 475.3 160.9)" textLength="29">kotlovoi-zavod.kz</text>
<text x="489.2" y="177.3" transform="rotate(-20.5 489.2 177.3)" textLength="29">kotlovoi-zavod.kz</text>
<text x="503.1" y="193.8" transform="rotate(-20.5 503.1 193.8)" textLength="29">kotlovoi-zavod.kz</text>
<text x="516.9" y="210.3" transform="rotate(-20.5 516.9 210.3)" textLength="29">kotlovoi-zavod.kz</text>
<text x="530.8" y="226.8" transform="rotate(-20.5 530.8 226.8)" textLength="29">kotlovoi-zavod.kz</text>
<text x="544.7" y="243.2" transform="rotate(-20.5 544.7 243.2)" textLength="29">kotlovoi-zavod.kz</text>
<text x="558.6" y="259.7" transform="rotate(-20.5 558.6 259.7)" textLength="29">kotlovoi-zavod.kz</text>
<text x="572.4" y="276.2" transform="rotate(-20.5 572.4 276.2)" textLength="29">kotlovoi-zavod.kz</text>
<text x="586.3" y="292.7" transform="rotate(-20.5 586.3 292.7)" textLength="29">kotlovoi-zavod.kz</text>
<text x="600.2" y="309.1" transform="rotate(-20.5 600.2 309.1)" textLength="29">kotlovoi-zavod.kz</text>
<text x="614.1" y="325.6" transform="rotate(-20.5 614.1 325.6)" textLength="29">kotlovoi-zavod.kz</text>
<text x="627.9" y="342.1" transform="rotate(-20.5 627.9 342.1)" textLength="29">kotlovoi-zavod.kz</text>
<text x="641.8" y="358.6" transform="rotate(-20.5 641.8 358.6)" textLength="29">kotlovoi-zavod.kz</text>
<text x="392.4" y="7.3" transform="rotate(-20.5 392.4 7.3)" textLength="29">kotlovoi-zavod.kz</text>
<text x="406.2" y="23.8" transform="rotate(-20.5 406.2 23.8)" textLength="29">kotlovoi-zavod.kz</text>
<text x="420.1" y="40.3" transform="rotate(-20.5 420.1 40.3)" textLength="29">kotlovoi-zavod.kz</text>
<text x="434.0" y="56.7" transform="rotate(-20.5 434.0 56.7)" textLength="29">kotlovoi-zavod.kz</text>
<text x="447.8" y="73.2" transform="rotate(-20.5 447.8 73.2)" textLength="29">kotlovoi-zavod.kz</text>
<text x="461.7" y="89.7" transform="rotate(-20.5 461.7 89.7)" textLength="29">kotlovoi-zavod.kz</text>
<text x="475.6" y="106.2" transform="rotate(-20.5 475.6 106.2)" textLength="29">kotlovoi-zavod.kz</text>
<text x="489.5" y="122.6" transform="rotate(-20.5 489.5 122.6)" textLength="29">kotlovoi-zavod.kz</text>
<text x="503.3" y="139.1" transform="rotate(-20.5 503.3 139.1)" textLength="29">kotlovoi-zavod.kz</text>
<text x="517.2" y="155.6" transform="rotate(-20.5 517.2 155.6)" textLength="29">kotlovoi-zavod.kz</text>
<text x="531.1" y="172.1" transform="rotate(-20.5 531.1 172.1)" textLength="29">kotlovoi-zavod.kz</text>
<text x="545.0" y="188.5" transform="rotate(-20.5 545.0 188.5)" textLength="29">kotlovoi-zavod.kz</text>
<text x="558.8" y="205.0" transform="rotate(-20.5 558.8 205.0)" textLength="29">kotlovoi-zavod.kz</text>
<text x="572.7" y="221.5" transform="rotate(-20.5 572.7 221.5)" textLength="29">kotlovoi-zavod.kz</text>
<text x="586.6" y="238.0" transform="rotate(-20.5 586.6 238.0)" textLength="29">kotlovoi-zavod.kz</text>
<text x="600.5" y="254.4" transform="rotate(-20.5 600.5 254.4)" textLength="29">kotlovoi-zavod.kz</text>
<text x="614.3" y="270.9" transform="rotate(-20.5 614.3 270.9)" textLength="29">kotlovoi-zavod.kz</text>
<text x="628.2" y="287.4" transform="rotate(-20.5 628.2 287.4)" textLength="29">kotlovoi-zavod.kz</text>
<text x="642.1" y="303.9" transform="rotate(-20.5 642.1 303.9)" textLength="29">kotlovoi-zavod.kz</text>
<text x="434.3" y="2.0" transform="rotate(-20.5 434.3 2.0)" textLength="29">kotlovoi-zavod.kz</text>
<text x="448.1" y="18.5" transform="rotate(-20.5 448.1 18.5)" textLength="29">kotlovoi-zavod.kz</text>
<text x="462.0" y="35.0" transform="rotate(-20.5 462.0 35.0)" textLength="29">kotlovoi-zavod.kz</text>
<text x="475.9" y="51.5" transform="rotate(-20.5 475.9 51.5)" textLength="29">kotlovoi-zavod.kz</text>
<text x="489.7" y="67.9" transform="rotate(-20.5 489.7 67.9)" textLength="29">kotlovoi-zavod.kz</text>
<text x="503.6" y="84.4" transform="rotate(-20.5 503.6 84.4)" textLength="29">kotlovoi-zavod.kz</text>
<text x="517.5" y="100.9" transform="rotate(-20.5 517.5 100.9)" textLength="29">kotlovoi-zavod.kz</text>
<text x="531.4" y="117.4" transform="rotate(-20.5 531.4 117.4)" textLength="29">kotlovoi-zavod.kz</text>
<text x="545.2" y="133.8" transform="rotate(-20.5 545.2 133.8)" textLength="29">kotlovoi-zavod.kz</text>
<text x="559.1" y="150.3" transform="rotate(-20.5 559.1 150.3)" textLength="29">kotlovoi-zavod.kz</text>
<text x="573.0" y="166.8" transform="rotate(-20.5 573.0 166.8)" textLength="29">kotlovoi-zavod.kz</text>
<text x="586.9" y="183.2" transform="rotate(-20.5 586.9 183.2)" textLength="29">kotlovoi-zavod.kz</text>
<text x="600.7" y="199.7" transform="rotate(-20.5 600.7 199.7)" textLength="29">kotlovoi-zavod.kz</text>
<text x="614.6" y="216.2" transform="rotate(-20.5 614.6 216.2)" textLength="29">kotlovoi-zavod.kz</text>
<text x="628.5" y="232.7" transform="rotate(-20.5 628.5 232.7)" textLength="29">kotlovoi-zavod.kz</text>
<text x="642.4" y="249.1" transform="rotate(-20.5 642.4 249.1)" textLength="29">kotlovoi-zavod.kz</text>
<text x="476.2" y="-3.3" transform="rotate(-20.5 476.2 -3.3)" textLength="29">kotlovoi-zavod.kz</text>
<text x="490.0" y="13.2" transform="rotate(-20.5 490.0 13.2)" textLength="29">kotlovoi-zavod.kz</text>
<text x="503.9" y="29.7" transform="rotate(-20.5 503.9 29.7)" textLength="29">kotlovoi-zavod.kz</text>
<text x="517.8" y="46.2" transform="rotate(-20.5 517.8 46.2)" textLength="29">kotlovoi-zavod.kz</text>
<text x="531.6" y="62.6" transform="rotate(-20.5 531.6 62.6)" textLength="29">kotlovoi-zavod.kz</text>
<text x="545.5" y="79.1" transform="rotate(-20.5 545.5 79.1)" textLength="29">kotlovoi-zavod.kz</text>
<text x="559.4" y="95.6" transform="rotate(-20.5 559.4 95.6)" textLength="29">kotlovoi-zavod.kz</text>
<text x="573.3" y="112.1" transform="rotate(-20.5 573.3 112.1)" textLength="29">kotlovoi-zavod.kz</text>
<text x="587.1" y="128.5" transform="rotate(-20.5 587.1 128.5)" textLength="29">kotlovoi-zavod.kz</text>
<text x="601.0" y="145.0" transform="rotate(-20.5 601.0 145.0)" textLength="29">kotlovoi-zavod.kz</text>
<text x="614.9" y="161.5" transform="rotate(-20.5 614.9 161.5)" textLength="29">kotlovoi-zavod.kz</text>
<text x="628.8" y="178.0" transform="rotate(-20.5 628.8 178.0)" textLength="29">kotlovoi-zavod.kz</text>
<text x="642.6" y="194.4" transform="rotate(-20.5 642.6 194.4)" textLength="29">kotlovoi-zavod.kz</text>
<text x="531.9" y="7.9" transform="rotate(-20.5 531.9 7.9)" textLength="29">kotlovoi-zavod.kz</text>
<text x="545.8" y="24.4" transform="rotate(-20.5 545.8 24.4)" textLength="29">kotlovoi-zavod.kz</text>
<text x="559.7" y="40.9" transform="rotate(-20.5 559.7 40.9)" textLength="29">kotlovoi-zavod.kz</text>
<text x="573.5" y="57.4" transform="rotate(-20.5 573.5 57.4)" textLength="29">kotlovoi-zavod.kz</text>
<text x="587.4" y="73.8" transform="rotate(-20.5 587.4 73.8)" textLength="29">kotlovoi-zavod.kz</text>
<text x="601.3" y="90.3" transform="rotate(-20.5 601.3 90.3)" textLength="29">kotlovoi-zavod.kz</text>
<text x="615.2" y="106.8" transform="rotate(-20.5 615.2 106.8)" textLength="29">kotlovoi-zavod.kz</text>
<text x="629.0" y="123.3" transform="rotate(-20.5 629.0 123.3)" textLength="29">kotlovoi-zavod.kz</text>
<text x="642.9" y="139.7" transform="rotate(-20.5 642.9 139.7)" textLength="29">kotlovoi-zavod.kz</text>
<text x="573.8" y="2.6" transform="rotate(-20.5 573.8 2.6)" textLength="29">kotlovoi-zavod.kz</text>
<text x="587.7" y="19.1" transform="rotate(-20.5 587.7 19.1)" textLength="29">kotlovoi-zavod.kz</text>
<text x="601.6" y="35.6" transform="rotate(-20.5 601.6 35.6)" textLength="29">kotlovoi-zavod.kz</text>
<text x="615.4" y="52.1" transform="rotate(-20.5 615.4 52.1)" textLength="29">kotlovoi-zavod.kz</text>
<text x="629.3" y="68.5" transform="rotate(-20.5 629.3 68.5)" textLength="29">kotlovoi-zavod.kz</text>
<text x="643.2" y="85.0" transform="rotate(-20.5 643.2 85.0)" textLength="29">kotlovoi-zavod.kz</text>
<text x="615.7" y="-2.6" transform="rotate(-20.5 615.7 -2.6)" textLength="29">kotlovoi-zavod.kz</text>
<text x="629.6" y="13.8" transform="rotate(-20.5 629.6 13.8)" textLength="29">kotlovoi-zavod.kz</text>
<text x="643.5" y="30.3" transform="rotate(-20.5 643.5 30.3)" textLength="29">kotlovoi-zavod.kz</text>
</g>
<!-- outer frame -->
<path class="ol" d="M22.5 0.5V428.5H621.5V0.5H22.5"/>
<!-- inner frame -->
<rect class="fr" x="51" y="5.9" width="564.9" height="417.4"/>
<!-- left strip upper -->
<path class="ls" d="M50.8 5.8H36.5V176.4H50.8M43.5 5.8V176.4"/>
<!-- left strip lower -->
<path class="ls" d="M50.8 216.3H36.5V423.2H50.8M43.5 216.3V423.2M36.5 266.5H50.8M36.5 301.8H50.8M36.5 337.4H50.8M36.5 387.4H50.8"/>
<!-- top rotated stamp -->
<path class="ls" d="M50.8 25.4H150.8V5.8"/>

<g font-size="6.5" style="fill:#2a2a2a;stroke:#2a2a2a;stroke-width:0.12">
<text transform="translate(42.6,66) rotate(-90)" textLength="35.5" lengthAdjust="spacingAndGlyphs">Перв.  примен.</text>
<text transform="translate(42.6,149.3) rotate(-90)" textLength="22.3" lengthAdjust="spacingAndGlyphs">Справ.  N</text>
<text transform="translate(42.6,257.4) rotate(-90)" textLength="36" lengthAdjust="spacingAndGlyphs">Подп.  и  дата</text>
<text transform="translate(42.6,301) rotate(-90)" textLength="32.6" lengthAdjust="spacingAndGlyphs">Инв.  N  дубл.</text>
<text transform="translate(42.6,335.5) rotate(-90)" textLength="33" lengthAdjust="spacingAndGlyphs">Взам.  инв.  N</text>
<text transform="translate(42.6,378) rotate(-90)" textLength="35.3" lengthAdjust="spacingAndGlyphs">Подп.  и  дата</text>
<text transform="translate(42.6,421.5) rotate(-90)" textLength="32.5" lengthAdjust="spacingAndGlyphs">Инв.  N  подл.</text>
</g>
<text class="bt" transform="translate(149.3,12) rotate(180)" font-size="10" textLength="96" lengthAdjust="spacingAndGlyphs" style="letter-spacing:1px">КВТУ .078.201.04.000  Ф</text>

<!-- ============ PLAN ============ -->
<!-- centerlines -->
<path class="cl" d="M120 94H327M120 190H327M121 142.4H341M134.5 82V200M230.5 75V200M327.2 82V200"/>
<path class="dim" d="M134.5 200V278M230.7 200V257M327.2 200V278"/>
<!-- extension/dim lines -->
<path class="dim" d="M327.2 94H375.6M327.2 190H375.6M375.6 94V190"/>
<path class="dim" d="M134.5 256.3H230.7M134.5 277.3H327.2"/>
<!-- 160 dims top -->
<path class="dim" d="M196.4 76.8H239.3M223.3 76.8V85M239.3 76.8V85M240.5 85.7H266.8M240.5 102.1H266.8M263.6 58.8V102.1"/>
<!-- leaders -->
<path class="ld" d="M120.2 48L134.5 94.2"/><path stroke="#e0e0e0" stroke-width="0.8" d="M119.5 48H130.5M357.5 47.5H369.5M245.5 233.8H258"/>
<path class="ld" d="M358 47.5L327.2 94"/>
<path class="ld" d="M230.5 190L245.5 233.8"/>
<!-- dots -->
<g class="dot">
<rect x="125.2" y="85.2" width="2.2" height="2.2"/><rect x="141.3" y="85.2" width="2.2" height="2.2"/><rect x="125.2" y="101.2" width="2.2" height="2.2"/><rect x="141.3" y="101.2" width="2.2" height="2.2"/>
<rect x="221.9" y="84.6" width="2.2" height="2.2"/><rect x="237.9" y="84.6" width="2.2" height="2.2"/><rect x="221.9" y="101.0" width="2.2" height="2.2"/><rect x="237.9" y="101.0" width="2.2" height="2.2"/>
<rect x="318.5" y="85.1" width="2.2" height="2.2"/><rect x="334.5" y="85.1" width="2.2" height="2.2"/><rect x="318.5" y="101.1" width="2.2" height="2.2"/><rect x="334.5" y="101.1" width="2.2" height="2.2"/>
<rect x="125.1" y="181.1" width="2.2" height="2.2"/><rect x="141.6" y="181.1" width="2.2" height="2.2"/><rect x="125.1" y="197.0" width="2.2" height="2.2"/><rect x="141.6" y="197.0" width="2.2" height="2.2"/>
<rect x="221.9" y="181.2" width="2.2" height="2.2"/><rect x="237.9" y="181.2" width="2.2" height="2.2"/><rect x="221.9" y="196.9" width="2.2" height="2.2"/><rect x="237.9" y="196.9" width="2.2" height="2.2"/>
<rect x="318.5" y="180.5" width="2.2" height="2.2"/><rect x="334.5" y="180.5" width="2.2" height="2.2"/><rect x="318.5" y="197.1" width="2.2" height="2.2"/><rect x="334.5" y="197.1" width="2.2" height="2.2"/>
</g>
<!-- arrows -->
<g class="ar">
<path d="M134.5 256.3l4.5 -1v2z"/><path d="M230.7 256.3l-4.5 -1v2z"/>
<path d="M134.5 277.3l4.5 -1v2z"/><path d="M327.2 277.3l-4.5 -1v2z"/>
<path d="M375.6 94l-1 4.5h2z"/><path d="M375.6 190l-1 -4.5h2z"/>
<path d="M223.3 76.8l4.5 -1v2z"/><path d="M239.3 76.8l-4.5 -1v2z"/>
<path d="M263.6 85.7l-1 4.5h2z"/><path d="M263.6 102.1l-1 -4.5h2z"/>
</g>
<!-- section marks -->
<path stroke="#777" stroke-width="0.8" fill="none" d="M215.7 183.3V197M262.5 183.3V197"/>
<path stroke="#333" stroke-width="1.6" fill="none" d="M212.9 198H222M256.5 198H265.6"/>

<!-- plan texts -->
<text class="bt2" x="119.7" y="46.7" font-size="10.5" textLength="10.4" lengthAdjust="spacingAndGlyphs">P1</text>
<text class="bt2" x="358" y="46.7" font-size="10.5" textLength="11" lengthAdjust="spacingAndGlyphs">P3</text>
<text class="bt2" x="245.5" y="233" font-size="10.5" textLength="11.5" lengthAdjust="spacingAndGlyphs">P2</text>
<text class="bt" x="199.6" y="74.8" font-size="7.1" style="letter-spacing:0.4px" textLength="15.6" lengthAdjust="spacingAndGlyphs">160±1</text>
<text class="bt" transform="translate(261.2,77.4) rotate(-90)" font-size="7.1" style="letter-spacing:0.4px" textLength="16.6" lengthAdjust="spacingAndGlyphs">160±1</text>
<text class="bt" transform="translate(373.3,151.3) rotate(-90)" font-size="7.1" style="letter-spacing:0.4px" textLength="18.3" lengthAdjust="spacingAndGlyphs">960±3</text>
<rect x="140.7" y="106.5" width="34.7" height="13.1" fill="none" stroke="#c0c0c0" stroke-width="0.9"/>
<text class="bt" x="145.3" y="117.8" font-size="13.2" textLength="26" lengthAdjust="spacingAndGlyphs" style="letter-spacing:1.5px">0.000</text>
<g class="bt2" font-size="11.2" style="letter-spacing:0.6px"><text x="145.1" y="137.3" textLength="19.2" lengthAdjust="spacingAndGlyphs">Ось</text><text x="168.9" y="137.3" textLength="52.5" lengthAdjust="spacingAndGlyphs">симетрии</text><text x="224.8" y="137.3" textLength="33.7" lengthAdjust="spacingAndGlyphs">котла</text></g>
<text class="bt2" x="204.5" y="188.4" font-size="12.8" textLength="8" lengthAdjust="spacingAndGlyphs">A</text>
<text class="bt2" x="267" y="188.4" font-size="12.8" textLength="7.6" lengthAdjust="spacingAndGlyphs">A</text>
<text class="bt" x="172.6" y="253.6" font-size="7.1" style="letter-spacing:0.4px" textLength="19.9" lengthAdjust="spacingAndGlyphs">1205±2</text>
<text class="bt" x="219.7" y="275" font-size="7.1" style="letter-spacing:0.4px" textLength="21.9" lengthAdjust="spacingAndGlyphs">2410±3</text>

<!-- ============ SECTION A-A ============ -->
<g class="bt2" font-size="13">
<text x="469" y="96" textLength="7.7" lengthAdjust="spacingAndGlyphs">A</text>
<text x="498.2" y="96" textLength="8" lengthAdjust="spacingAndGlyphs">A</text>
<text x="513.2" y="96" textLength="24.6" lengthAdjust="spacingAndGlyphs">(1:5)</text>
</g>
<path d="M485.3 93.2H490.7" stroke="#222" stroke-width="1.2"/>
<text class="bt" x="494.6" y="119.3" font-size="7.1" style="letter-spacing:0.4px" textLength="16.6" lengthAdjust="spacingAndGlyphs">160±1</text>
<path class="dim" d="M478.3 121.3H526.7M478.3 118V139M526.7 118V139"/>
<g class="ar"><path d="M478.3 121.3l4.5 -1v2z"/><path d="M526.7 121.3l-4.5 -1v2z"/></g>
<!-- slab -->
<defs>
<clipPath id="slab"><path d="M465 153.5H540C539.2 158 539.8 164 538.6 168C537.6 171.5 536 174.5 532.5 176.5C520 177 505 175.8 490 176.8C482 177.2 476 176.8 471 176.5C468.5 174 467 170 466.2 165C465.6 161 464.8 157 465 153.5Z"/></clipPath>
</defs>
<g clip-path="url(#slab)" stroke="#b4b4b4" stroke-width="0.8">
<path d="M440 190L480 150M448 190L488 150M456 190L496 150M464 190L504 150M472 190L512 150M480 190L520 150M488 190L528 150M496 190L536 150M504 190L544 150M512 190L552 150M520 190L560 150M528 190L568 150M536 190L576 150"/>
</g>
<path fill="none" stroke="#aaa" stroke-width="0.8" d="M465 153.5H540C539.2 158 539.8 164 538.6 168C537.6 171.5 536 174.5 532.5 176.5C520 177 505 175.8 490 176.8C482 177.2 476 176.8 471 176.5C468.5 174 467 170 466.2 165C465.6 161 464.8 157 465 153.5Z"/>
<path fill="none" stroke="#999" stroke-width="1" d="M465 153.5H540"/>
<!-- bolts -->
<g fill="#fff" stroke="#999" stroke-width="0.9">
<rect x="476.1" y="139.2" width="4.5" height="37.2"/>
<rect x="524.6" y="139.2" width="4.6" height="37.2"/>
</g>
<path stroke="#555" stroke-width="1.2" d="M476.3 139.3H480.4M524.8 139.3H529"/>
<path class="dim" d="M478.4 139.5V176.4M526.9 139.5V176.4M476.1 150.6H480.6M524.6 150.6H529.2"/>
<path class="cl" d="M503 128V185"/>
<path class="dim" d="M529.6 139H558.6M540.5 153.5H558.6M557.7 139V178"/>
<g class="ar"><path d="M557.7 139l-1 4.5h2z"/><path d="M557.7 153.5l-1 -4.5h2z"/></g>
<text class="bt" transform="translate(555.3,175) rotate(-90)" font-size="7.1" style="letter-spacing:0.4px" textLength="14" lengthAdjust="spacingAndGlyphs">50±1</text>

<!-- ============ NOTES ============ -->
<g font-size="6.8" class="bt" style="letter-spacing:0.35px">
<text class="bt" x="377.5" y="273.6" textLength="80" lengthAdjust="spacingAndGlyphs">1. • Размер для справок.</text>
<text class="bt" x="377.5" y="282.3" textLength="216.6" lengthAdjust="spacingAndGlyphs">2. Отклонение от горизонтального уровня верхней поверхности</text>
<text class="bt" x="361.3" y="291" textLength="96" lengthAdjust="spacingAndGlyphs">фундамента не более  10  мм.</text>
<text class="bt" x="377.5" y="299.7" textLength="208.5" lengthAdjust="spacingAndGlyphs">3. В случае отсутствия бетонного пола площадку под котел</text>
<text class="bt" x="361.3" y="308.2" textLength="244.5" lengthAdjust="spacingAndGlyphs">забетонировать. Расстояние от осей крайних колонн до края бетонной</text>
<text class="bt" x="361.3" y="317.2" textLength="57" lengthAdjust="spacingAndGlyphs">подушки  500  мм.</text>
<text class="bt" x="377.5" y="325.7" textLength="226" lengthAdjust="spacingAndGlyphs">4. Фундамент под котел разрабатывает проектная организация</text>
<text class="bt" x="361.3" y="334.2" textLength="96.2" lengthAdjust="spacingAndGlyphs">по нагрузкам на фундамент.</text>
</g>

<!-- ============ P TABLE ============ -->
<path stroke="#b4b4b4" stroke-width="1.1" fill="none" d="M118.5 316.5H298.7V360.9H118.5ZM118.5 338.3H298.7M178.6 316.5V360.9M238.8 316.5V360.9"/>
<g font-size="10.2" class="bt2">
<text class="bt" x="143" y="331.8" textLength="7.4" lengthAdjust="spacingAndGlyphs">P</text><text x="151.2" y="332.8" font-size="6.2" style="stroke-width:0.12">1</text>
<text class="bt" x="202.6" y="331.8" textLength="7.4" lengthAdjust="spacingAndGlyphs">P</text><text x="210.8" y="332.8" font-size="6.2" style="stroke-width:0.12">2</text>
<text class="bt" x="262.7" y="331.8" textLength="7.4" lengthAdjust="spacingAndGlyphs">P</text><text x="270.6" y="333.2" font-size="6.2" style="stroke-width:0.12">3</text>
</g>
<g font-size="12.2" class="bt2" style="letter-spacing:0.9px">
<text class="bt" x="129.2" y="354.6" textLength="38.3" lengthAdjust="spacingAndGlyphs">550  кг</text>
<text class="bt" x="190.3" y="354.6" textLength="38.4" lengthAdjust="spacingAndGlyphs">700  кг</text>
<text class="bt" x="250.3" y="354.6" textLength="37.5" lengthAdjust="spacingAndGlyphs">750  кг</text>
</g>

<!-- ============ TITLE BLOCK ============ -->
<g class="tn">
<path d="M352 351.8H444.6M352 359H444.6M352 380.9H444.6M352 387.7H444.6M352 394.6H444.6M352 401.8H444.6M352 408.8H444.6M352 416H444.6"/>
<path d="M544.8 394.3H615.8M551.4 373.2V394.3M558.5 373.2V394.3M573.8 394.3V401.6M595 394.3V401.6"/>
</g>
<g class="tk">
<path d="M352 344.7H615.8M352 344.7V423.2M352 366.4H615.8M352 373.2H444.6M361.9 344.7V380.9M376.6 344.7V423.2M409 344.7V423.2M430.4 344.7V423.2M444.6 344.7V423.2M544.8 366.4V423.2M444.6 401.8H615.8M544.8 373.2H615.8M565.6 366.4V394.3M590.5 366.4V394.3"/>
</g>
<text class="bt2" x="456" y="360.7" font-size="14.6" textLength="147.6" lengthAdjust="spacingAndGlyphs" style="letter-spacing:1.4px">КВТУ .078.201.04.000  Ф</text>
<g font-size="9.8" style="letter-spacing:0.7px">
<text class="bt" x="467.3" y="374.2" textLength="53" lengthAdjust="spacingAndGlyphs">Задание  на</text>
<text class="bt" x="470.7" y="387.7" textLength="48.2" lengthAdjust="spacingAndGlyphs">установку</text>
<text class="bt" x="466" y="399" textLength="57.2" lengthAdjust="spacingAndGlyphs">фундамента</text>
</g>
<g font-size="6.3" style="letter-spacing:0.5px;fill:#333">
<text x="467.3" y="410.4" textLength="54.3" lengthAdjust="spacingAndGlyphs">Котел  водогрейный</text>
<text x="472.5" y="418" textLength="44" lengthAdjust="spacingAndGlyphs">КВ -0,9  КБ  (К)</text>
</g>
<g font-size="5.2" class="bt">
<text x="352.2" y="379.2" textLength="9.5" lengthAdjust="spacingAndGlyphs">Изм.</text><text x="362.1" y="379.2" textLength="13.4" lengthAdjust="spacingAndGlyphs">Лист</text>
<text x="383.4" y="379.3" textLength="21.7" lengthAdjust="spacingAndGlyphs">N докум.</text><text x="413.5" y="379.3" textLength="13" lengthAdjust="spacingAndGlyphs">Подп.</text><text x="431.4" y="379.3" textLength="13.2" lengthAdjust="spacingAndGlyphs">Дата</text>
</g>
<g font-size="5.7" class="bt">
<text x="353.7" y="386.5" textLength="19.7" lengthAdjust="spacingAndGlyphs">Разраб.</text>
<text x="353.7" y="393.3" textLength="12.3" lengthAdjust="spacingAndGlyphs">Пров.</text>
<text x="353.7" y="400.6" textLength="20" lengthAdjust="spacingAndGlyphs">Т.контр.</text>
<text x="353.7" y="414.6" textLength="20" lengthAdjust="spacingAndGlyphs">Н.контр.</text>
<text x="353.7" y="421.8" textLength="11" lengthAdjust="spacingAndGlyphs">Утв.</text>
</g>
<g font-size="5" style="fill:#222;letter-spacing:0.3px;stroke:#222;stroke-width:0.12">
<text x="549.7" y="371.8" textLength="10.6" lengthAdjust="spacingAndGlyphs">Лит.</text><text x="570" y="371.8" textLength="15.7" lengthAdjust="spacingAndGlyphs">Масса</text><text x="591" y="371.8" textLength="23" lengthAdjust="spacingAndGlyphs">Масштаб</text>
<text x="548.5" y="400.4" textLength="12.4" lengthAdjust="spacingAndGlyphs">Лист</text><text x="575.3" y="400.4" textLength="18.7" lengthAdjust="spacingAndGlyphs">Листов</text>
</g>
<g class="n" style="fill:#222">
<text x="545.5" y="387" font-size="7.6" textLength="4.8" lengthAdjust="spacingAndGlyphs">И</text>
<path d="M576.2 382.9H579.5" stroke="#333" stroke-width="0.8"/>
<text x="597.5" y="387" font-size="7.6" textLength="11.8" lengthAdjust="spacingAndGlyphs">1:20</text>
<text x="604.6" y="400.4" font-size="5.4">1</text>
</g>
<!-- logo -->
<rect x="546.1" y="405.8" width="10.6" height="11.9" rx="1.8" fill="#111"/>
<g fill="#fff"><circle cx="545.9" cy="409.8" r="0.9"/><circle cx="545.9" cy="413.7" r="0.9"/><circle cx="556.9" cy="409.8" r="0.9"/><circle cx="556.9" cy="413.7" r="0.9"/></g>
<path d="M547.8 411.3L555 407.8M547.8 414.2L555 410.8M547.8 416.6L555 413.7" stroke="#8a8a8a" stroke-width="0.9" fill="none"/>
<text class="n" x="559" y="418.1" font-size="17.6" textLength="25" lengthAdjust="spacingAndGlyphs" style="fill:#111;font-weight:bold;stroke:#111;stroke-width:0.5">KVZR</text>
<g font-size="5.2" class="n" style="fill:#555">
<text x="587.3" y="411" textLength="26" lengthAdjust="spacingAndGlyphs">КОТЕЛЬНЫЙ</text>
<text x="587.3" y="416.7" textLength="24.4" lengthAdjust="spacingAndGlyphs">ЗАВОД РЭП</text>
</g>
<text x="565.2" y="427.8" font-size="5.2" textLength="29.6" lengthAdjust="spacingAndGlyphs" style="fill:#333;letter-spacing:0.6px">Формат   А3</text>
</svg>
</body></html>
